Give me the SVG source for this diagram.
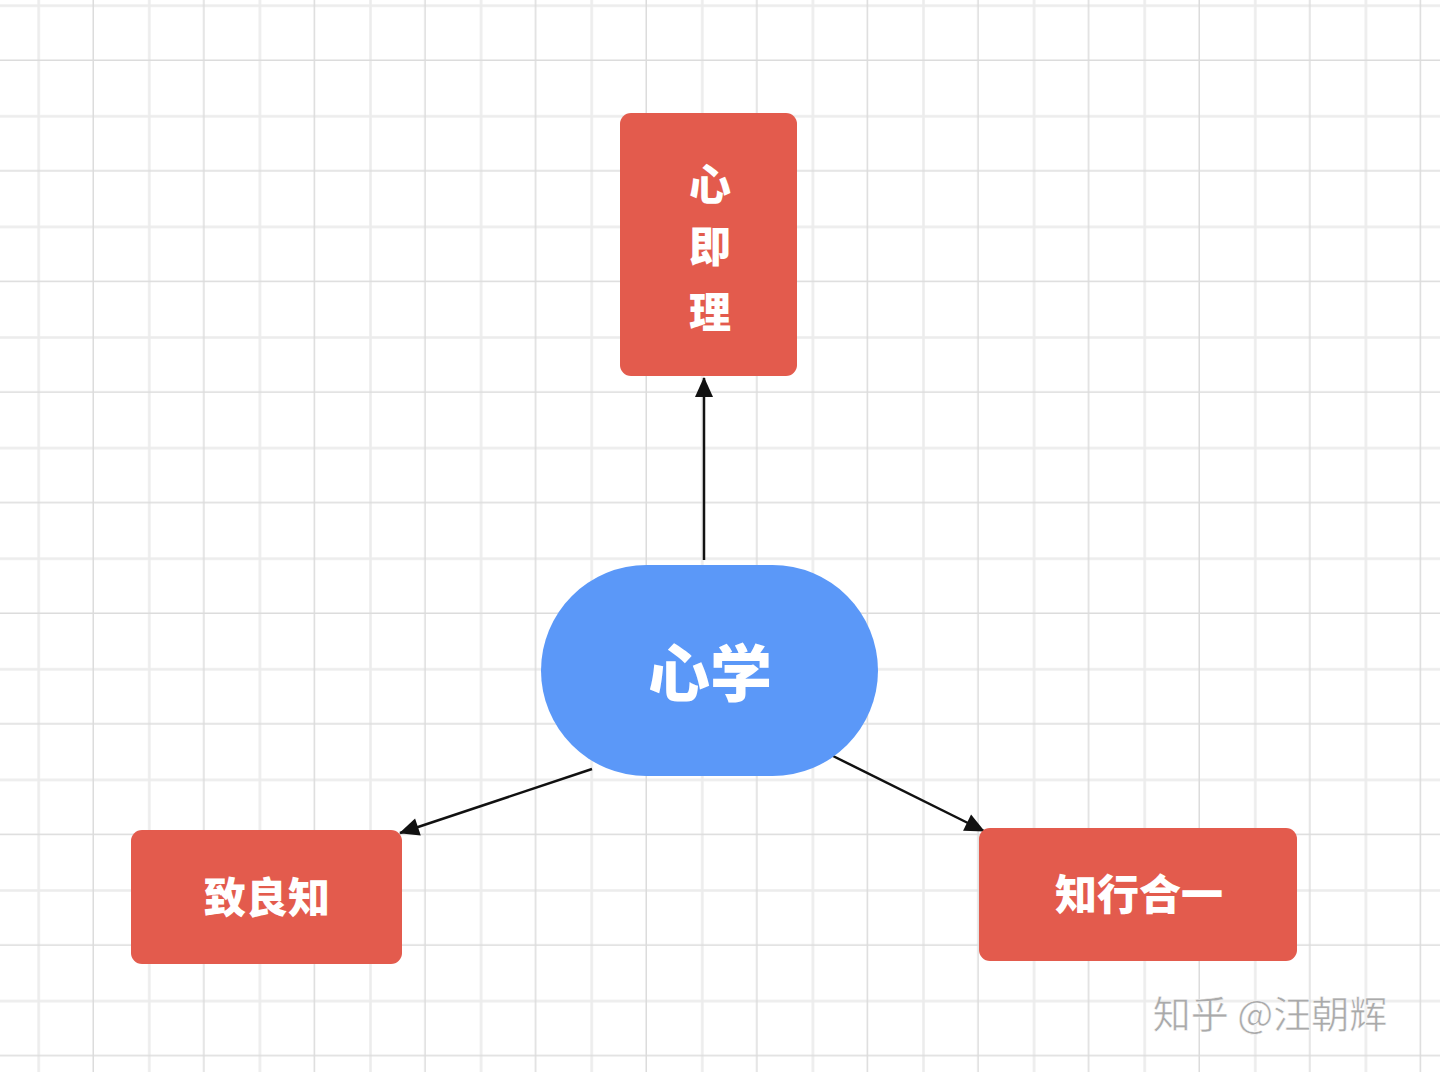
<svg xmlns="http://www.w3.org/2000/svg" width="1440" height="1072" viewBox="0 0 1440 1072">
<style>
.n{fill:#E35B4D}
.t{fill:#fff;font-family:"Noto Sans CJK SC",sans-serif;font-weight:900;text-anchor:middle}
.c{stroke:#111;stroke-width:2.5;fill:none;marker-end:url(#a)}
</style>
<defs>
<pattern id="g" x="-16.6" y="-49.6" width="110.6" height="110.6" patternUnits="userSpaceOnUse">
<path d="M55.3 0V110.6M0 55.3H110.6" stroke="#ececec" stroke-width="2.5"/>
<path d="M110.6 0V110.6M0 110.6H110.6" stroke="#dcdcdc" stroke-width="3"/>
</pattern>
<marker id="a" viewBox="0 0 10 10" refX="9" refY="5" markerWidth="9" markerHeight="9" markerUnits="userSpaceOnUse" orient="auto" overflow="visible"><path d="M-12 -5L10 5L-12 15Z" fill="#111" transform="scale(1)"/></marker>
</defs>
<rect width="1440" height="1072" fill="#fff"/>
<rect width="1440" height="1072" fill="url(#g)"/>
<g id="connectors">
<line class="c" x1="704" y1="560" x2="704" y2="378"/>
<line class="c" x1="592" y1="769" x2="400" y2="833"/>
<line class="c" x1="831" y1="755" x2="984" y2="831"/>
</g>
<g id="xinjili"><rect class="n" x="620" y="113" width="177" height="263" rx="11"/>
<text class="t" font-size="42" x="710" y="200">心</text><text class="t" font-size="42" x="710" y="262">即</text><text class="t" font-size="42" x="710" y="328">理</text></g>
<g id="xinxue"><rect x="541" y="565" width="337" height="211" rx="105.5" fill="#5B98F8"/>
<text class="t" font-size="62" x="710" y="697">心学</text></g>
<g id="zhiliangzhi"><rect class="n" x="131" y="830" width="271" height="134" rx="11"/>
<text class="t" font-size="42" x="267" y="913">致良知</text></g>
<g id="zhixingheyi"><rect class="n" x="979" y="828" width="318" height="133" rx="11"/>
<text class="t" font-size="42" x="1139" y="910">知行合一</text></g>
<text x="1270" y="1028" font-size="38" fill="#aaa" text-anchor="middle" font-family="Noto Sans CJK SC,sans-serif" stroke="#fff" stroke-width="0.5">知乎 @汪朝辉</text>
</svg>
